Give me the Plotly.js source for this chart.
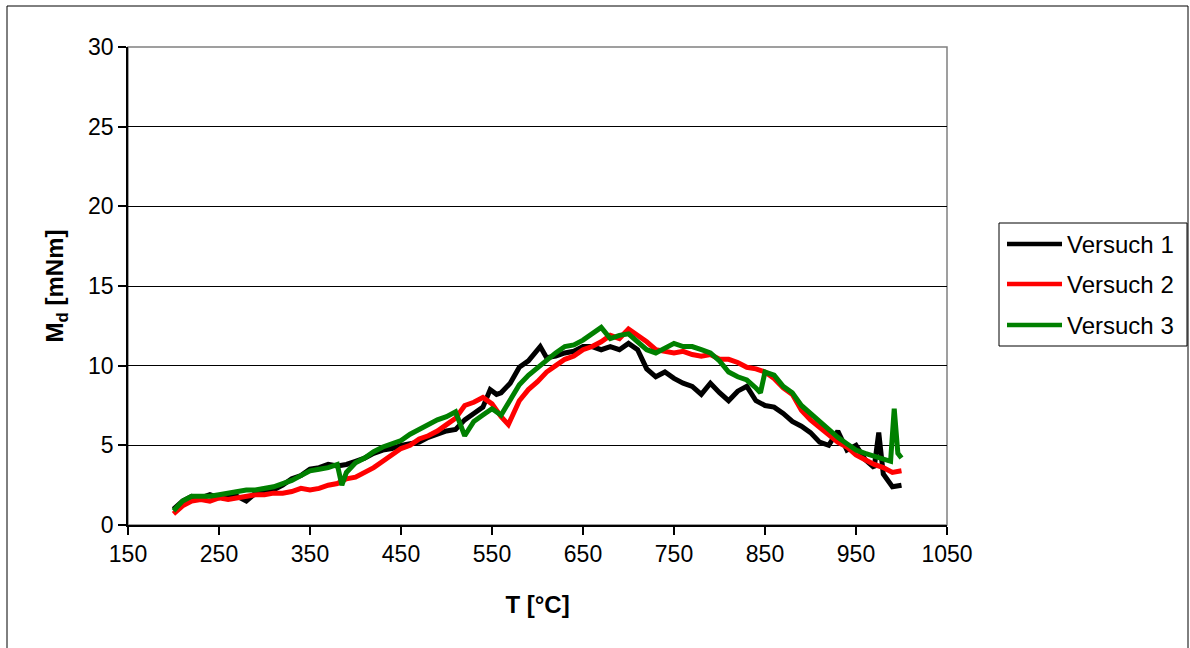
<!DOCTYPE html>
<html>
<head>
<meta charset="utf-8">
<script src="https://cdn.plot.ly/plotly-3.0.1.min.js"></script>
<style>
html,body{margin:0;padding:0;background:#fff;}
#chart{width:1190px;height:648px;}
</style>
</head>
<body>
<div id="chart"></div>
<script>
// ---- data ----
var seriesNames = ["Versuch 1", "Versuch 2", "Versuch 3"];
var seriesColors = ["#000000", "#ff0000", "#008000"];

var t1 = [200,210,220,230,240,250,260,270,280,290,300,310,320,330,340,350,360,370,380,390,400,410,420,430,440,450,460,470,480,490,500,510,520,530,540,548,555,560,570,580,590,603,610,620,630,640,650,660,670,680,690,700,710,720,730,740,750,760,770,780,790,800,810,820,830,840,850,860,870,880,890,900,910,920,930,940,950,960,970,975,980,990,1000];
var v1 = [1.0,1.5,1.8,1.7,1.9,1.7,1.9,1.8,1.5,2.0,2.1,2.2,2.5,2.9,3.1,3.5,3.6,3.8,3.7,3.8,4.0,4.2,4.5,4.7,4.8,5.0,5.1,5.2,5.5,5.7,5.9,6.0,6.6,7.0,7.4,8.5,8.2,8.3,8.9,9.9,10.3,11.2,10.5,10.6,10.8,10.9,11.2,11.2,11.0,11.2,11.0,11.4,11.0,9.8,9.3,9.6,9.2,8.9,8.7,8.2,8.9,8.3,7.8,8.4,8.7,7.8,7.5,7.4,7.0,6.5,6.2,5.8,5.2,5.0,5.9,4.7,5.0,4.1,3.6,5.8,3.2,2.4,2.5];

var t2 = [200,210,220,230,240,250,260,270,280,290,300,310,320,330,340,350,360,370,380,390,400,410,420,430,440,450,460,470,480,490,500,510,520,530,540,550,560,568,580,590,600,610,620,630,640,650,660,670,680,690,700,710,720,730,740,750,760,770,780,790,800,810,820,830,840,850,860,870,880,890,900,910,920,930,940,950,960,970,980,990,1000];
var v2 = [0.7,1.2,1.5,1.6,1.5,1.7,1.6,1.7,1.8,1.9,1.9,2.0,2.0,2.1,2.3,2.2,2.3,2.5,2.6,2.9,3.0,3.3,3.6,4.0,4.4,4.8,5.0,5.4,5.6,5.9,6.3,6.7,7.5,7.7,8.0,7.6,6.8,6.3,7.8,8.5,9.0,9.6,10.0,10.4,10.6,11.0,11.2,11.5,11.9,11.7,12.3,11.9,11.5,11.0,10.9,10.8,10.9,10.7,10.6,10.7,10.4,10.4,10.2,9.9,9.8,9.6,9.2,8.6,8.2,7.2,6.6,6.1,5.6,5.2,4.9,4.4,4.1,3.8,3.6,3.3,3.4];

var t3 = [200,210,220,230,240,250,260,270,280,290,300,310,320,330,340,350,360,370,380,385,390,400,410,420,430,440,450,460,470,480,490,500,510,520,530,540,550,560,570,580,590,600,610,620,630,640,650,660,670,680,690,700,710,720,730,740,750,760,770,780,790,800,810,820,830,840,845,850,860,870,880,890,900,910,920,930,940,950,960,970,980,988,992,996,1000];
var v3 = [0.9,1.5,1.8,1.8,1.8,1.9,2.0,2.1,2.2,2.2,2.3,2.4,2.6,2.8,3.1,3.4,3.5,3.6,3.8,2.5,3.3,3.9,4.2,4.6,4.9,5.1,5.3,5.7,6.0,6.3,6.6,6.8,7.1,5.6,6.5,6.9,7.3,6.9,7.9,8.8,9.4,9.9,10.3,10.8,11.2,11.3,11.6,12.0,12.4,11.7,11.9,12.0,11.5,11.0,10.8,11.1,11.4,11.2,11.2,11.0,10.8,10.3,9.6,9.3,9.1,8.6,8.3,9.6,9.4,8.7,8.3,7.5,7.0,6.4,5.9,5.5,5.1,4.7,4.5,4.3,4.1,4.0,7.3,4.5,4.2];

var xTickVals = [150,250,350,450,550,650,750,850,950,1050];
var yTickVals = [0,5,10,15,20,25,30];
var xTitle = "T [°C]";
var yTitle = "M<sub>d</sub> [mNm]";

// ---- layout helpers (pixel -> paper) ----
var L = 128, R = 947, T = 47, B = 525;
function px(x){ return (x - L) / (R - L); }
function py(y){ return (B - y) / (B - T); }

var FONT = "Arial, 'Liberation Sans', sans-serif";
var tsData = [t1, t2, t3], vsData = [v1, v2, v3];
var traces = seriesNames.map(function(n, i){
  return {x: tsData[i], y: vsData[i], name: n, type: "scatter", mode: "lines",
          line: {color: seriesColors[i], width: 5}, showlegend: false, hoverinfo: "x+y+name"};
});

var shapes = [
  // outer chart border
  {type: "rect", xref: "paper", yref: "paper", x0: px(7), x1: px(1188), y0: py(660), y1: py(6),
   line: {color: "#000", width: 1}, layer: "below"},
  // plot area border (grey)
  {type: "rect", xref: "paper", yref: "paper", x0: 0, x1: 1, y0: 0, y1: 1,
   line: {color: "#808080", width: 1.5}, layer: "below"},
  // legend box
  {type: "rect", xref: "paper", yref: "paper", x0: px(999), x1: px(1187), y0: py(346), y1: py(223),
   line: {color: "#000", width: 1}, fillcolor: "rgba(0,0,0,0)"}
];
var annotations = [];
var legY = [244, 284, 325];
seriesNames.forEach(function(n, i){
  shapes.push({type: "line", xref: "paper", yref: "paper", x0: px(1007), x1: px(1062), y0: py(legY[i]), y1: py(legY[i]),
               line: {color: seriesColors[i], width: 4.5}});
  annotations.push({xref: "paper", yref: "paper", x: px(1065), y: py(legY[i]), xanchor: "left", yanchor: "middle",
                    text: n, showarrow: false, font: {family: FONT, size: 24, color: "#000"}});
});

var layout = {
  width: 1190, height: 648,
  margin: {l: L, r: 1190 - R, t: T, b: 648 - B, pad: 0},
  paper_bgcolor: "#ffffff", plot_bgcolor: "#ffffff",
  showlegend: false,
  font: {family: FONT, size: 23, color: "#000"},
  xaxis: {
    range: [150, 1050], tickvals: xTickVals, ticktext: xTickVals.map(String),
    showgrid: false, zeroline: false, showline: true, linecolor: "#000", linewidth: 1.5,
    ticks: "outside", ticklen: 8, tickwidth: 1.5, tickcolor: "#000",
    tickfont: {family: FONT, size: 23, color: "#000"},
    title: {text: "<b>" + xTitle + "</b>", font: {family: FONT, size: 24, color: "#000"}, standoff: 30},
    automargin: false, fixedrange: true
  },
  yaxis: {
    range: [0, 30], tickvals: yTickVals, ticktext: yTickVals.map(String),
    showgrid: true, gridcolor: "#000", gridwidth: 1, zeroline: false,
    showline: true, linecolor: "#000", linewidth: 1.5,
    ticks: "outside", ticklen: 8, tickwidth: 1.5, tickcolor: "#000",
    tickfont: {family: FONT, size: 23, color: "#000"},
    title: {text: "<b>" + yTitle + "</b>", font: {family: FONT, size: 24, color: "#000"}, standoff: 18},
    automargin: false, fixedrange: true
  },
  shapes: shapes,
  annotations: annotations
};

Plotly.newPlot("chart", traces, layout, {displayModeBar: false});
</script>
</body>
</html>
